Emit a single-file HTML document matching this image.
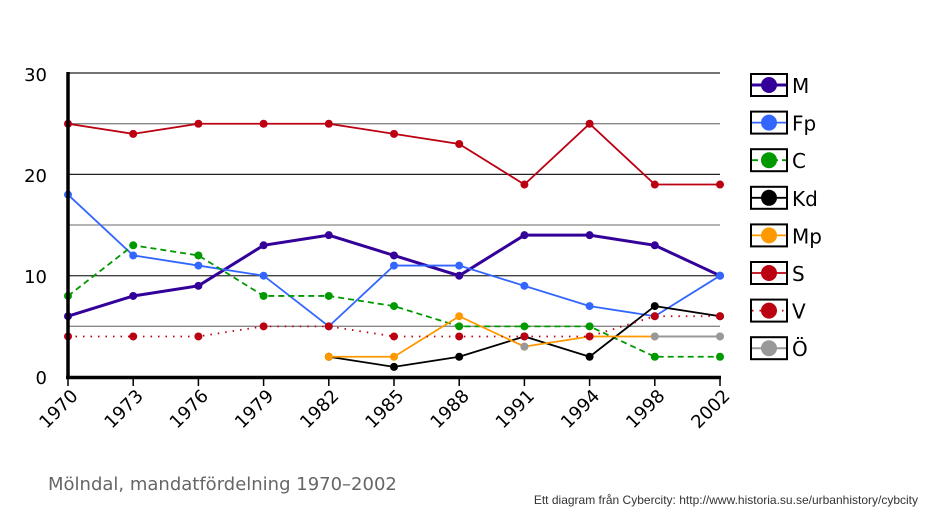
<!DOCTYPE html>
<html><head><meta charset="utf-8"><style>
body{margin:0;background:#fff;width:934px;height:521px;overflow:hidden}
svg{display:block;font-family:"DejaVu Sans","Liberation Sans",sans-serif}
</style></head><body>
<svg id="s" width="934" height="521" viewBox="0 0 934 521" xmlns="http://www.w3.org/2000/svg">
<line x1="68" y1="326.3" x2="720" y2="326.3" stroke="#888" stroke-width="1.3"/>
<line x1="68" y1="225" x2="720" y2="225" stroke="#888" stroke-width="1.3"/>
<line x1="68" y1="123.7" x2="720" y2="123.7" stroke="#888" stroke-width="1.3"/>
<line x1="68" y1="275.7" x2="720" y2="275.7" stroke="#444" stroke-width="1.3"/>
<line x1="68" y1="174.4" x2="720" y2="174.4" stroke="#222" stroke-width="1.3"/>
<line x1="68" y1="73" x2="720" y2="73" stroke="#222" stroke-width="1.3"/>
<g font-size="18" text-anchor="end" fill="#000">
<text x="47" y="384">0</text><text x="47" y="283">10</text><text x="47" y="182">20</text><text x="47" y="81">30</text>
</g>
<g id="series"></g>
<line x1="68" y1="72" x2="68" y2="379" stroke="#000" stroke-width="3.5"/>
<line x1="66" y1="377.5" x2="721" y2="377.5" stroke="#000" stroke-width="3.5"/>
<g id="ticks"></g>
<g id="legend"></g>
<text x="48" y="490" font-size="18" fill="#666">Mölndal, mandatfördelning 1970–2002</text>
<text x="918" y="504" font-size="12" fill="#333" text-anchor="end" font-family="Liberation Sans,sans-serif">Ett diagram från Cybercity: http://www.historia.su.se/urbanhistory/cybcity</text>
</svg>
<script>
var NS="http://www.w3.org/2000/svg";
function X(i){return 68+i*65.2}function Y(v){return 377-v*10.13}
function el(t,a,p,txt){var e=document.createElementNS(NS,t);for(var k in a)e.setAttribute(k,a[k]);if(txt)e.textContent=txt;p.appendChild(e);return e}
var yrs=[1970,1973,1976,1979,1982,1985,1988,1991,1994,1998,2002];
var tk=document.getElementById('ticks');
yrs.forEach(function(y,i){el('line',{x1:X(i),y1:377,x2:X(i),y2:386,stroke:'#000','stroke-width':1.5},tk);
el('text',{x:X(i)+11,y:397,'font-size':18,'text-anchor':'end',transform:'rotate(-45 '+(X(i)+11)+' 397)'},tk,String(y));});
var S=[
["M","#330099",3,"",[6,8,9,13,14,12,10,14,14,13,10]],
["Fp","#3366ff",1.8,"",[18,12,11,10,5,11,11,9,7,6,10]],
["C","#009900",1.8,"6,4",[8,13,12,8,8,7,5,5,5,2,2]],
["Kd","#000",1.8,"",[null,null,null,null,2,1,2,4,2,7,6]],
["Mp","#ff9900",1.8,"",[null,null,null,null,2,2,6,3,4,4,4]],
["S","#bb0011",1.8,"",[25,24,25,25,25,24,23,19,25,19,19]],
["V","#bb0011",1.8,"1.5,6",[4,4,4,5,5,4,4,4,4,6,6]],
["Ö","#999",2,"",[null,null,null,null,null,null,null,3,null,4,4]]];
var g=document.getElementById('series');
S.forEach(function(s){var seg=[];
 s[4].forEach(function(v,i){if(v===null){if(seg.length>1)el('polyline',{points:seg.join(' '),fill:'none',stroke:s[1],'stroke-width':s[2],'stroke-dasharray':s[3]},g);seg=[];}else seg.push(X(i)+','+Y(v));});
 if(seg.length>1)el('polyline',{points:seg.join(' '),fill:'none',stroke:s[1],'stroke-width':s[2],'stroke-dasharray':s[3]},g);
 s[4].forEach(function(v,i){if(v!==null)el('circle',{cx:X(i),cy:Y(v),r:4,fill:s[1]},g);});
});
var L=document.getElementById('legend');
S.forEach(function(s,i){var y=74+i*37.6;
 el('rect',{x:751,y:y,width:36,height:22,fill:'#fff',stroke:'#000','stroke-width':2},L);
 el('line',{x1:752,y1:y+11,x2:786,y2:y+11,stroke:s[1],'stroke-width':s[2],'stroke-dasharray':s[3]},L);
 el('circle',{cx:769,cy:y+11,r:8,fill:s[1]},L);
 el('text',{x:792,y:y+19,'font-size':20},L,s[0]);
});
</script>
</body></html>
